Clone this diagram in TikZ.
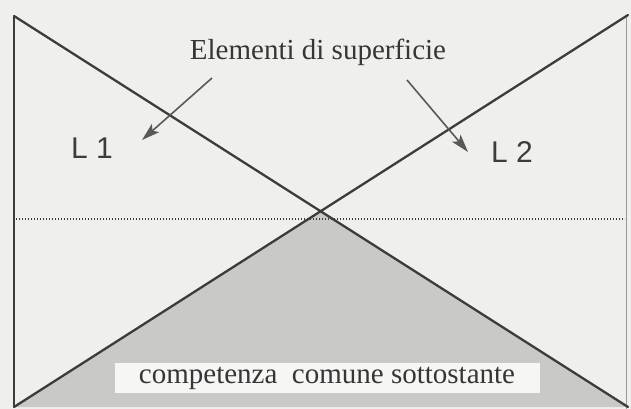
\documentclass[tikz,border=0pt]{standalone}
\usepackage{fontspec}
\setmainfont{Liberation Serif}
\setsansfont{Liberation Sans}
\usetikzlibrary{
  arrows.meta,
  positioning,
  calc
}
\definecolor{dgBack}{HTML}{EFEFEC}
\definecolor{dgLine}{HTML}{3C3C3C}
\definecolor{dgDeep}{HTML}{C9C9C6}
\definecolor{dgLabel}{HTML}{F6F6F4}
\definecolor{dgEdge}{HTML}{9A9A9A}
\tikzset{
  layer/.style={draw=dgLine, line width=2.3pt, line cap=round},
  frame/.style={draw=dgLine, line width=1.6pt},
  pointer/.style={-{Stealth[length=18pt, width=11pt, inset=4pt]}, draw=dgLine!85, line width=1.6pt},
  level/.style={draw=dgLine, line width=1.3pt, dash pattern=on 1.3pt off 1.7pt},
  caption/.style={font=\fontsize{29}{33}\selectfont, text=dgLine!90!black, inner sep=1pt},
  tag/.style={font=\sffamily\fontsize{30}{34}\selectfont, text=dgLine, inner sep=1pt},
  base/.style={fill=dgLabel, minimum width=425pt, minimum height=30pt,
    font=\fontsize{29}{33}\selectfont, text=dgLine!90!black, inner sep=0pt}
}
\begin{document}
\begin{tikzpicture}[x=1pt, y=-1pt]
  \fill[dgBack] (0,0) rectangle (631,409);
  \useasboundingbox (0,0) rectangle (631,409);
  % corners of the frame
  \coordinate (tl) at (14,16);
  \coordinate (bl) at (14,407);
  \coordinate (tr) at (628,15);
  \coordinate (br) at (628,407);
  \coordinate (cx) at (321,212);
  % shared part under the crossing
  \fill[dgDeep] (bl) -- (cx) -- (br) -- cycle;
  \draw[dgEdge, line width=1pt] (626,15) -- (626,409);
  \draw[frame] (tl) -- (bl);
  \draw[level] (16,219) -- (625,219);
  \draw[layer] (tl) -- (br);
  \draw[layer] (bl) -- (tr);
  % labels
  \node[caption] (surf) at (318,52) {Elementi di superficie};
  \node[tag] (l1) at (92,148) {L 1};
  \node[tag] (l2) at (512,152) {L 2};
  \node[base] (deep) at (327,378) {competenza\ \ comune sottostante};
  \coordinate (s1) at (212,78);
  \coordinate (e1) at (142,140);
  \coordinate (s2) at (407,80);
  \coordinate (e2) at (468,152);
  \draw[pointer] (s1) -- (e1);
  \draw[pointer] (s2) -- (e2);
\end{tikzpicture}
\end{document}
